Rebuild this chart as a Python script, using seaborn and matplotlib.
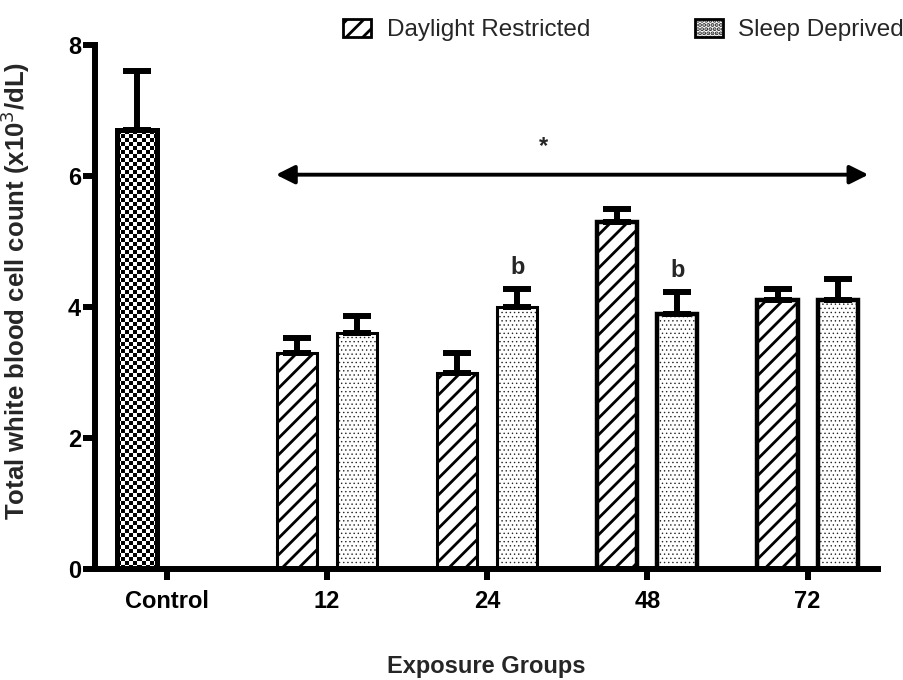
import numpy as np
import pandas as pd
import matplotlib
matplotlib.use("Agg")
import matplotlib.pyplot as plt
from matplotlib.patches import Patch
import seaborn as sns

# ---- data ----
groups = ["Control", "12", "24", "48", "72"]
control_mean = 6.7
control_sem = 0.9
dr_mean = [3.3, 3.0, 5.3, 4.1]
dr_sem = [0.22, 0.30, 0.20, 0.18]
sd_mean = [3.6, 4.0, 3.9, 4.1]
sd_sem = [0.26, 0.27, 0.33, 0.33]
series = ["Daylight Restricted", "Sleep Deprived"]
y_ticks = [0, 2, 4, 6, 8]
sig_groups = ["24", "48"]  # "b" marks over Sleep Deprived bars

rows = [{"group": "Control", "slot": "left", "value": control_mean, "sem": control_sem, "kind": "Control"}]
for g, m, s in zip(groups[1:], dr_mean, dr_sem):
    rows.append({"group": g, "slot": "left", "value": m, "sem": s, "kind": series[0]})
for g, m, s in zip(groups[1:], sd_mean, sd_sem):
    rows.append({"group": g, "slot": "right", "value": m, "sem": s, "kind": series[1]})
df = pd.DataFrame(rows)

sns.set_theme(style="white")
plt.rcParams["font.family"] = ["Liberation Sans", "DejaVu Sans"]
plt.rcParams["hatch.linewidth"] = 2.0

DOT_COLOR = (0.15, 0.15, 0.15, 1)


def style_dots(p):
    p.set_hatch("....")
    p._hatch_color = DOT_COLOR
    if hasattr(p, "set_hatch_linewidth"):
        p.set_hatch_linewidth(0.5)


def style_lines(p):
    p.set_hatch("//")
    p._hatch_color = (0, 0, 0, 1)
    if hasattr(p, "set_hatch_linewidth"):
        p.set_hatch_linewidth(2.0)


fig = plt.figure(figsize=(9.04, 6.8), dpi=100)
ax = fig.add_axes([95 / 904, 1 - 569 / 680, 783 / 904, 524 / 680])

sns.barplot(data=df, x="group", y="value", hue="slot", order=groups,
            hue_order=["left", "right"], width=0.75, gap=0.333,
            errorbar=None, legend=False, ax=ax, color="white")

ax.set_xlim(-0.45, 4.44)
ax.set_ylim(0, 8)

lookup = {(r.group, r.slot): r for r in df.itertuples()}
for p in list(ax.patches):
    cx = p.get_x() + p.get_width() / 2
    gi = int(round(cx))
    slot = "left" if cx < gi else "right"
    r = lookup.get((groups[gi], slot))
    if r is None:
        continue
    p.set_facecolor("white")
    p.set_edgecolor("black")
    thick = r.group in ("Control", "48", "72")
    p.set_linewidth(3.6 if r.kind == "Control" else (3.2 if thick else 2.2))
    if r.kind == series[0]:
        style_lines(p)
    elif r.kind == series[1]:
        style_dots(p)
    else:
        # checkerboard fill for control
        p.set_facecolor("none")
        x0, w, h = p.get_x(), p.get_width(), p.get_height()
        nx = max(1, int(round(w * 160 / 4)))
        ny = max(1, int(round(h * 65.5 / 4)))
        chk = (np.add.outer(np.arange(ny), np.arange(nx)) % 2).astype(float)
        im = ax.imshow(chk, cmap="gray", extent=(x0, x0 + w, 0, h), aspect="auto",
                       interpolation="nearest", zorder=p.get_zorder() - 0.1)
        im.set_clip_path(p)
    ax.errorbar(cx, r.value, yerr=[[0], [r.sem]], fmt="none", ecolor="black",
                elinewidth=4.3, capsize=10, capthick=4.3, zorder=1)
    if r.kind == series[1] and r.group in sig_groups:
        ax.text(cx, r.value + r.sem + 0.33, "b", ha="center", va="center",
                fontsize=17, fontweight="bold")

ax.set_xlim(-0.45, 4.44)
ax.set_ylim(0, 8)

# significance arrow and star
ax.annotate("", xy=(4.38, 6.02), xytext=(0.68, 6.02),
            arrowprops=dict(arrowstyle="<|-|>", color="black", lw=2.8,
                            mutation_scale=28, shrinkA=0, shrinkB=0))
ax.text(2.35, 6.45, "*", ha="center", va="center", fontsize=17, fontweight="bold")

# axes styling
for s in ["top", "right"]:
    ax.spines[s].set_visible(False)
for s in ["left", "bottom"]:
    ax.spines[s].set_linewidth(4.3)
    ax.spines[s].set_color("black")
ax.set_yticks(y_ticks)
ax.set_yticklabels([str(t) for t in y_ticks], fontsize=17, fontweight="bold")
ax.set_xticks(range(len(groups)))
ax.set_xticklabels(groups, fontsize=17, fontweight="bold")
ax.tick_params(axis="y", direction="out", length=9, width=4.3, left=True, pad=1, colors="black")
ax.tick_params(axis="x", direction="out", length=8, width=4.3, bottom=True, pad=7, colors="black")
ax.set_ylabel("Total white blood cell count (x10$^{3}$/dL)", fontsize=18.5, fontweight="bold")
ax.set_xlabel("Exposure Groups", fontsize=17, fontweight="bold")
ax.yaxis.set_label_coords(-0.080, 0.53)
ax.xaxis.set_label_coords(0.5, -0.164)
ax.grid(False)

# legend
h1 = Patch(facecolor="white", edgecolor="black", linewidth=2)
style_lines(h1)
h2 = Patch(facecolor="white", edgecolor="black", linewidth=2)
style_dots(h2)
fig.legend([h1, h2], series, loc="center left", bbox_to_anchor=(343 / 904, 1 - 30 / 680),
           ncol=2, frameon=False, fontsize=17.5, handlelength=1.15, handleheight=0.8,
           handletextpad=0.65, columnspacing=4.3, borderpad=0, borderaxespad=0)

fig.savefig("out.png", dpi=100)
